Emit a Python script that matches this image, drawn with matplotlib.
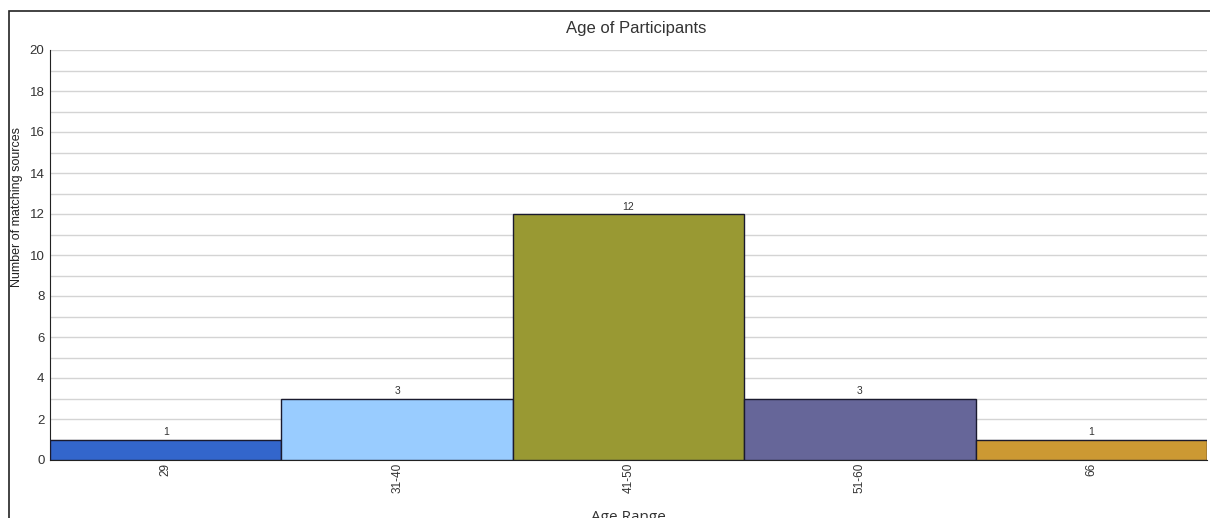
import matplotlib.pyplot as plt
from matplotlib.patches import Rectangle

plt.rcParams['font.family'] = ['Liberation Sans', 'DejaVu Sans']

# Participant counts per age range
age_ranges = ['29', '31-40', '41-50', '51-60', '66']
counts = [1, 3, 12, 3, 1]
colors = ['#3366cc', '#99ccff', '#999933', '#666699', '#cc9933']

fig = plt.figure(figsize=(12.1, 5.18), dpi=100)
ax = fig.add_axes([50 / 1210, 58 / 518, 1157 / 1210, 410 / 518])

# outer frame, only top and left edges are visible
fig.patches.append(Rectangle((9 / 1210, -0.1), 1.2, 507 / 518 + 0.1,
                             transform=fig.transFigure, fill=False,
                             edgecolor='#222222', linewidth=1.2))

x = range(len(age_ranges))
bars = ax.bar(x, counts, width=1.0, color=colors, edgecolor='#1a1a2e',
              linewidth=1.0, zorder=3)
for b, c in zip(bars, counts):
    ax.text(b.get_x() + b.get_width() / 2, c + 0.12, str(c),
            ha='center', va='bottom', fontsize=7.5, color='#333333')

ax.set_xlim(-0.5, len(age_ranges) - 0.5)
ax.set_ylim(0, 20)
ax.set_yticks(range(0, 21, 2))
ax.set_yticks(range(0, 21), minor=True)
ax.grid(axis='y', which='both', color='#d4d4d4', linewidth=1.0, zorder=0)
ax.set_xticks(list(x))
ax.set_xticklabels(age_ranges, rotation=90, fontsize=8.5, color='#333333')
ax.tick_params(axis='y', which='both', length=0, labelsize=9.5,
               labelcolor='#333333', pad=4)
ax.tick_params(axis='x', length=0, pad=2)

for s in ['top', 'right']:
    ax.spines[s].set_visible(False)
ax.spines['left'].set_color('#222222')
ax.spines['bottom'].set_color('#222222')

ax.set_title('Age of Participants', fontsize=12, color='#333333', pad=12,
             x=0.507)
ax.set_ylabel('Number of matching sources', fontsize=9, color='#222222')
ax.yaxis.set_label_coords(-0.023, 0.617)
ax.set_xlabel('Age Range', fontsize=11, color='#333333',
              fontfamily='Open Sans')
ax.xaxis.set_label_coords(0.5, -0.121)

fig.savefig('out.png', dpi=100)
